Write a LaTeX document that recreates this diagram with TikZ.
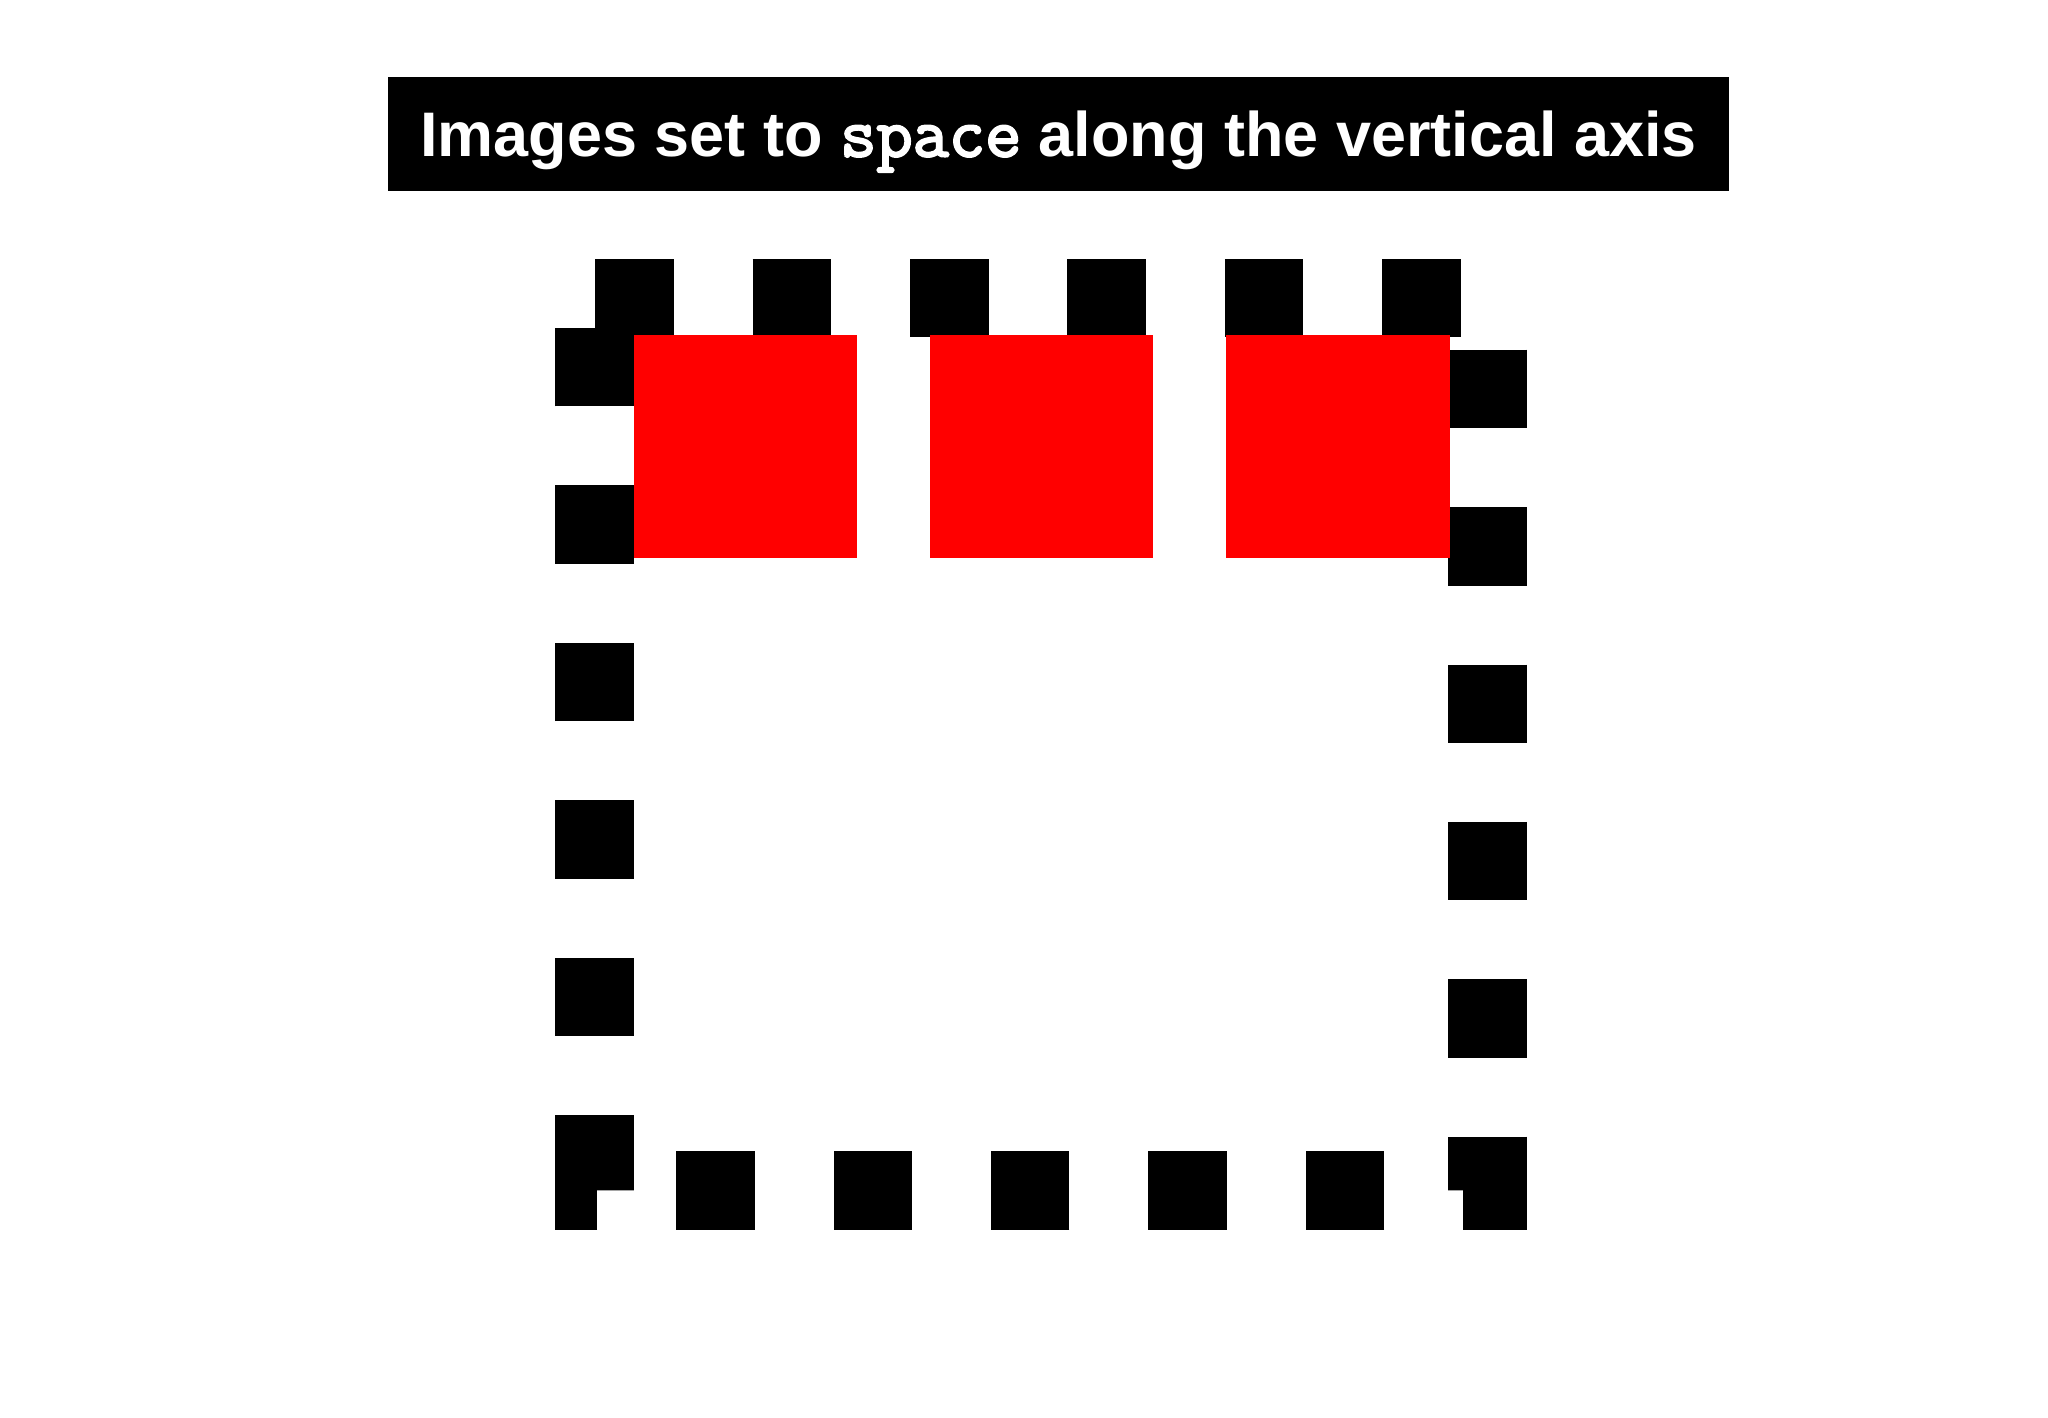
\documentclass[tikz,border=0pt]{standalone}
\usepackage{fontspec}
\setmainfont{Liberation Sans}
\newfontfamily\codefont[FakeBold=3]{Latin Modern Mono}
\usepackage{tikz}
\usetikzlibrary{positioning}

\begin{document}
\begin{tikzpicture}[
    x=0.01cm, y=-0.01cm,
    node distance=0.715cm,
    banner/.style={rectangle, fill=black, text=white, inner sep=0pt,
                minimum width=13.41cm, minimum height=1.14cm,
                text height=0.45cm, text depth=0pt,
                font=\fontsize{17.9pt}{21pt}\selectfont\bfseries},
    photo/.style={rectangle, fill=red, minimum size=2.23cm, inner sep=0pt},
    frame/.style={draw=black, line width=0.784cm, line join=miter,
                dash pattern=on 0.784cm off 0.789cm, dash phase=-0.01cm}
]
\useasboundingbox (0,0) rectangle (2048,1418);

\node[banner] (title) at (1058.5,134) {Images set to {\codefont\fontsize{20pt}{21pt}\selectfont space} along the vertical axis};

% dashed frame round the images
\coordinate (fnw) at (594.3,297.8);
\coordinate (fne) at (1487.7,297.8);
\coordinate (fse) at (1487.7,1190.5);
\coordinate (fsw) at (594.3,1190.5);
\draw[frame] (fnw) -- (fne) -- (fse) -- (fsw) -- cycle;

\node[photo, anchor=north west] (img1) at (633.5,334.4) {};
\node[photo, right=of img1] (img2) {};
\node[photo, right=of img2] (img3) {};

\end{tikzpicture}
\end{document}
